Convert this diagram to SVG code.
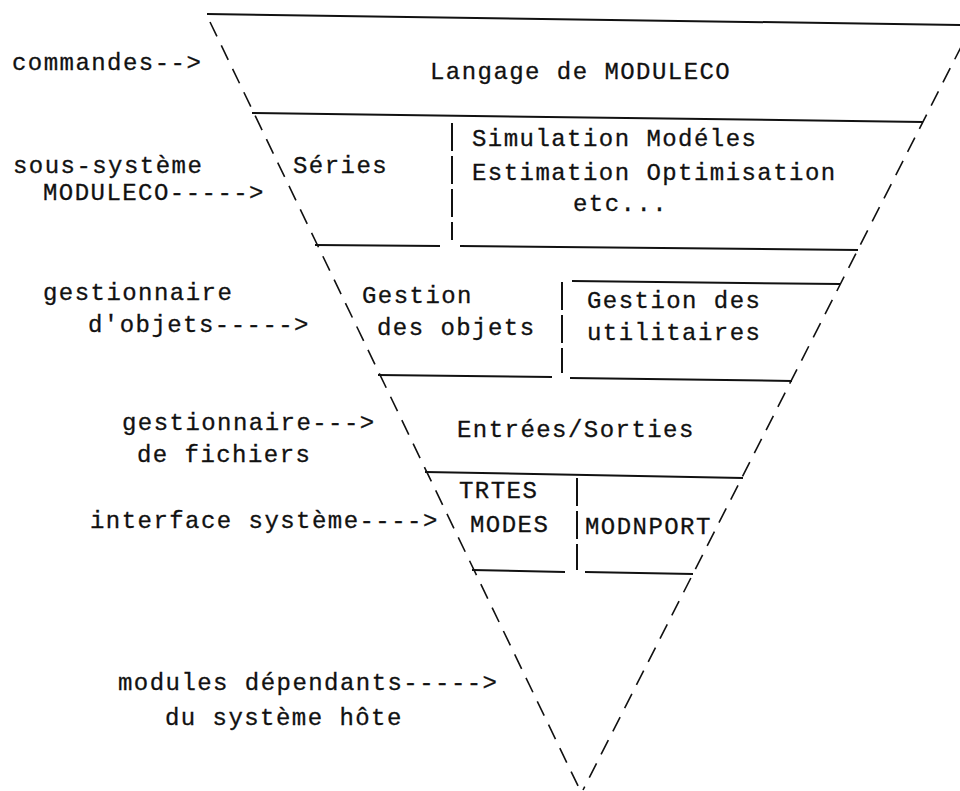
<svg xmlns="http://www.w3.org/2000/svg" width="960" height="791" viewBox="0 0 960 791">
<style>
text{font-family:"Liberation Mono","DejaVu Sans Mono",monospace;font-size:24px;letter-spacing:1.45px;fill:#111;stroke:#111;stroke-width:0.3}
.h{stroke:#111;stroke-width:2;fill:none}
.v{stroke:#111;stroke-width:2;fill:none;stroke-dasharray:28 5}
.side{stroke:#111;stroke-width:1.6;fill:none;stroke-dasharray:16 10}
</style>
<rect width="960" height="791" fill="#fff"/>
<g id="connectors">
<line class="side" x1="210" y1="22" x2="580" y2="790"/>
<line class="side" x1="962" y1="45" x2="583" y2="790"/>
</g>
<g id="layer-langage">
<line class="h" x1="207" y1="14" x2="960" y2="25"/>
<line class="h" x1="252" y1="113" x2="923" y2="122"/>
<text x="430" y="79">Langage de MODULECO</text>
</g>
<g id="layer-series">
<line class="h" x1="315" y1="245" x2="440" y2="246"/>
<text x="293" y="173">Séries</text>
</g>
<g id="layer-simulation">
<line class="v" x1="452" y1="123" x2="452" y2="240"/>
<line class="h" x1="460" y1="246" x2="858" y2="250"/>
<text x="472" y="146">Simulation Modéles</text>
<text x="472" y="180">Estimation Optimisation</text>
<text x="573" y="211">etc...</text>
</g>
<g id="layer-gestion-objets">
<line class="h" x1="378" y1="375" x2="552" y2="377"/>
<text x="362" y="303">Gestion</text>
<text x="377" y="335">des objets</text>
</g>
<g id="layer-gestion-utilitaires">
<line class="h" x1="572" y1="281" x2="840" y2="284"/>
<line class="v" x1="562" y1="282" x2="562" y2="373"/>
<line class="h" x1="570" y1="378" x2="792" y2="381"/>
<text x="587" y="308">Gestion des</text>
<text x="587" y="340">utilitaires</text>
</g>
<g id="layer-es">
<line class="h" x1="425" y1="472" x2="743" y2="478"/>
<text x="457" y="437">Entrées/Sorties</text>
</g>
<g id="layer-trtes">
<line class="h" x1="472" y1="570" x2="565" y2="572"/>
<text x="459" y="498">TRTES</text>
<text x="470" y="532">MODES</text>
</g>
<g id="layer-modnport">
<line class="v" x1="577" y1="478" x2="577" y2="570"/>
<line class="h" x1="585" y1="572" x2="693" y2="574"/>
<text x="585" y="534">MODNPORT</text>
</g>
<g id="labels">
<text x="12" y="70">commandes--&gt;</text>
<text x="13" y="173">sous-système</text>
<text x="43" y="200">MODULECO-----&gt;</text>
<text x="43" y="300">gestionnaire</text>
<text x="88" y="332">d'objets-----&gt;</text>
<text x="122" y="430">gestionnaire---&gt;</text>
<text x="137" y="462">de fichiers</text>
<text x="90" y="528">interface système----&gt;</text>
<text x="118" y="690">modules dépendants-----&gt;</text>
<text x="165" y="725">du système hôte</text>
</g>
</svg>
